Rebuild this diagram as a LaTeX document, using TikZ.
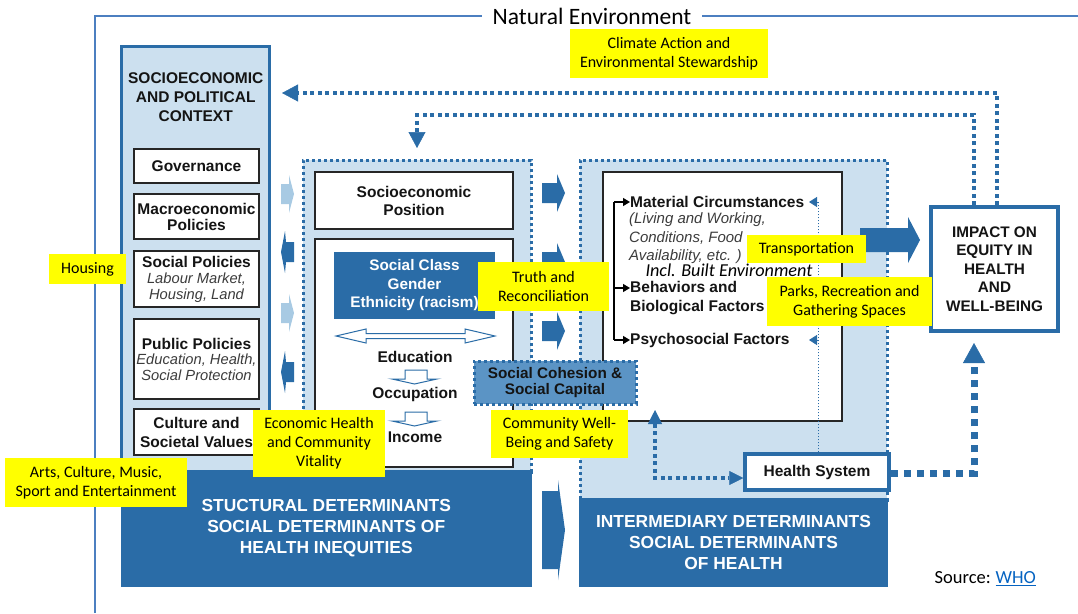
\documentclass[tikz,border=0pt]{standalone}
\usepackage{fontspec}
\setmainfont{Carlito}
\newfontfamily\hv{Liberation Sans}
\newfontfamily\calib{Carlito}
\usetikzlibrary{arrows.meta}
\definecolor{dblue}{HTML}{2A6CA7}
\definecolor{lblue}{HTML}{CCE0EF}
\definecolor{ablue}{HTML}{A8CAE3}
\definecolor{mblue}{HTML}{5B94C5}
\definecolor{yel}{HTML}{FFFF00}
\definecolor{frm}{HTML}{4C7FC0}
\definecolor{txt}{HTML}{141414}
\definecolor{itx}{HTML}{3C3C3C}
\definecolor{lnk}{HTML}{0563C1}
\begin{document}
\begin{tikzpicture}[x=1pt,y=-1pt,
  hvb/.style={font=\hv\bfseries\fontsize{15.5}{18}\selectfont, text=txt},
  wbox/.style={draw=black!85, line width=2pt, fill=white, inner sep=0pt, align=center, hvb},
  ybox/.style={fill=yel, inner sep=0pt, align=center, font=\calib\fontsize{16}{19}\selectfont, text=black},
  dbox/.style={fill=dblue, inner sep=0pt, align=center, text=white, font=\hv\bfseries\fontsize{17.4}{21}\selectfont},
  region/.style={fill=lblue, draw=dblue, line width=3pt, dash pattern=on 3pt off 3pt, inner sep=0pt},
  fb/.style={draw=dblue, line width=3.5pt, dash pattern=on 4pt off 3.5pt},
  fbtip/.style={-{Triangle[width=17pt,length=16pt,line width=0.5pt]}},
  thickdot/.style={draw=dblue, line width=7pt, dash pattern=on 7pt off 6pt},
  thindot/.style={draw=dblue, line width=1pt, dash pattern=on 1.5pt off 1.5pt},
  btxt/.style={hvb, inner sep=0pt, align=left},
  itxt/.style={font=\hv\itshape\fontsize{15}{18.5}\selectfont, text=itx, inner sep=0pt, align=left}
]
\useasboundingbox (0,0) rectangle (1078,613);

% ---- frame: natural environment
\node[font=\calib\fontsize{23.5}{26}\selectfont, inner sep=0pt] (natenv) at (592,16) {Natural Environment};
\draw[frm, line width=1.3pt] (95,613) |- ([xshift=-11pt]natenv.west);
\draw[frm, line width=1.3pt] ([xshift=11pt]natenv.east) -- (1078,16);

% ---- left column
\node[draw=dblue, line width=3pt, fill=lblue, minimum width=148pt, minimum height=440pt, inner sep=0pt] (ctx) at (195.75,266) {};
\node[hvb, align=center, inner sep=0pt, font=\hv\bfseries\fontsize{15.5}{19}\selectfont] (ctxt) at (195.75,97) {SOCIOECONOMIC\\AND POLITICAL\\CONTEXT};
\node[wbox, minimum width=125pt, minimum height=34pt] (gov) at (196.5,166) {Governance};
\node[wbox, minimum width=125pt, minimum height=45pt, font=\hv\bfseries\fontsize{15.5}{16}\selectfont] (macro) at (196.5,216.5) {Macroeconomic\\Policies};
\node[wbox, minimum width=125pt, minimum height=56pt, font=\hv\bfseries\fontsize{15.5}{16}\selectfont] (socpol) at (196.5,279) {Social Policies\\{\mdseries\itshape\color{itx}\fontsize{14.7}{16}\selectfont Labour Market,}\\{\mdseries\itshape\color{itx}\fontsize{14.7}{16}\selectfont Housing, Land}};
\node[wbox, minimum width=125pt, minimum height=80pt, font=\hv\bfseries\fontsize{15.5}{15.5}\selectfont] (pubpol) at (196.5,359) {Public Policies\\{\mdseries\itshape\color{itx}\fontsize{14.7}{15.5}\selectfont Education, Health,}\\{\mdseries\itshape\color{itx}\fontsize{14.7}{15.5}\selectfont Social Protection}};
\node[wbox, minimum width=125pt, minimum height=46pt, font=\hv\bfseries\fontsize{15.5}{19}\selectfont] (cult) at (196.5,432) {Culture and\\Societal Values};

% arrows between left column and middle region
\foreach \c in {194,313}
  \fill[ablue] (281,\c-10) -- (289,\c-10) -- (289,\c-19) -- (294,\c) -- (289,\c+19) -- (289,\c+10) -- (281,\c+10) -- cycle;
\foreach \c in {252,372}
  \fill[dblue] (294,\c-10) -- (286,\c-10) -- (285,\c-21) -- (281,\c) -- (285,\c+21) -- (286,\c+10) -- (294,\c+10) -- cycle;

% ---- middle region
\node[region, minimum width=228pt, minimum height=312pt] (midreg) at (417,316) {};
\node[wbox, minimum width=198pt, minimum height=57pt] (sep) at (414,200.5) {Socioeconomic\\Position};
\node[wbox, minimum width=198pt, minimum height=228pt] (strat) at (414,353) {};
\node[dbox, minimum width=161pt, minimum height=67pt, font=\hv\bfseries\fontsize{15.3}{18.5}\selectfont] (scg) at (414.5,285.5) {Social Class\\Gender\\Ethnicity (racism)};
\draw[dblue, line width=1pt, fill=white] (336,336) -- (366,329) -- (366,333.5) -- (465,333.5) -- (465,329) -- (495,336) -- (465,343) -- (465,338.5) -- (366,338.5) -- (366,343) -- cycle;
\node[hvb, inner sep=0pt] (edu) at (415,357) {Education};
\node[hvb, inner sep=0pt] (occ) at (415,394) {Occupation};
\node[hvb, inner sep=0pt] (inc) at (415,437) {Income};
\foreach \t in {370,412}
  \draw[dblue, line width=1pt, fill=white] (405,\t) -- (427,\t) -- (427,\t+9) -- (437,\t+9) -- (414.5,\t+14) -- (392,\t+9) -- (405,\t+9) -- cycle;

% arrows between middle and right regions
\foreach \c in {193,262,331}
  \fill[dblue] (542,\c-10) -- (557,\c-10) -- (557,\c-19) -- (565,\c) -- (557,\c+19) -- (557,\c+10) -- (542,\c+10) -- cycle;
\fill[dblue] (542,491) -- (558,491) -- (558,480) -- (565,530) -- (558,580) -- (558,569) -- (542,569) -- cycle;

% ---- right region
\node[region, minimum width=307pt, minimum height=340pt] (rreg) at (733.5,330) {};
\node[wbox, minimum width=239pt, minimum height=249pt] (inter) at (722.5,296.5) {};
\node[btxt, anchor=west] (mc) at (630,202) {Material Circumstances};
\node[itxt, anchor=west] (mcdet) at (629,238.5) {(Living and Working,\\Conditions, Food\\Availability, etc. )};
\node[btxt, anchor=west, font=\hv\bfseries\fontsize{15.5}{19}\selectfont] (beh) at (630,298) {Behaviors and\\Biological Factors};
\node[btxt, anchor=west] (psy) at (630,340) {Psychosocial Factors};
\coordinate (brt) at (614,202);
\coordinate (brm) at (614,288);
\coordinate (brb) at (614,340);
\draw[black, line width=1.3pt] (brt) -- (brb);
\draw[black, line width=1.3pt, -{Triangle[width=8pt,length=7pt]}] (brt) -- (mc.west);
\draw[black, line width=1.3pt, -{Triangle[width=8pt,length=7pt]}] (brm) -- (beh.west |- brm);
\draw[black, line width=1.3pt, -{Triangle[width=8pt,length=7pt]}] (brb) -- (psy.west);
\node[font=\calib\itshape\fontsize{18.2}{20}\selectfont, inner sep=0pt] (built) at (729,270) {Incl. Built Environment};

\node[draw=dblue, line width=3.5pt, fill=white, minimum width=144pt, minimum height=36pt, inner sep=0pt, hvb] (hs) at (817,472) {Health System};
% thin dotted feedback from health system
\coordinate (hmc) at (818,202);
\coordinate (hps) at (818,340);
\draw[thindot] ([xshift=1pt]hs.north) -- (hmc);
\draw[dblue, line width=0.8pt, -{Triangle[width=10pt,length=8pt]}] (hmc) -- ++(-9,0);
\draw[dblue, line width=0.8pt, -{Triangle[width=10pt,length=8pt]}] (hps) -- ++(-9,0);

% dark determinant boxes
\node[dbox, minimum width=411.5pt, minimum height=117pt] (struct) at (326.25,528.5) {STUCTURAL DETERMINANTS\\SOCIAL DETERMINANTS OF\\HEALTH INEQUITIES};
\node[dbox, minimum width=309pt, minimum height=89pt] (interm) at (733.5,542.5) {\raisebox{-2.5pt}{INTERMEDIARY DETERMINANTS}\\\raisebox{-2.5pt}{SOCIAL DETERMINANTS}\\\raisebox{-2.5pt}{OF HEALTH}};

% impact box and big arrow
\node[draw=dblue, line width=4pt, fill=white, minimum width=127pt, minimum height=124pt, inner sep=0pt, align=center, hvb, font=\hv\bfseries\fontsize{15.3}{18.5}\selectfont] (impact) at (994.5,269) {IMPACT ON\\EQUITY IN\\HEALTH\\AND\\WELL-BEING};
\fill[dblue] (860,228) -- (908,228) -- (908,217) -- (920,240) -- (908,263) -- (908,252) -- (860,252) -- cycle;

% health system connectors
\coordinate (upt) at (655,410);
\draw[fb, {Triangle[width=14pt,length=14pt,line width=0.5pt]}-{Triangle[width=14pt,length=14pt,line width=0.5pt]}] (upt) |- ([yshift=-6pt]hs.west);
\coordinate (impin) at (974,343);
\draw[thickdot, -{Triangle[width=22pt,length=20pt,line width=0.5pt]}] ([yshift=-1pt]hs.east) -| (impin);

% feedback lines from impact
\coordinate (fbA) at (282,93);
\coordinate (fbB) at (417,148);
\draw[fb, fbtip] ([xshift=2.5pt]impact.north) |- (fbA);
\draw[fb, fbtip] ([xshift=-20.5pt]impact.north) |- (fbB |- 0,115) -- (fbB);

% social cohesion
\node[fill=mblue, draw=dblue, line width=3pt, dash pattern=on 3pt off 3pt, minimum width=162pt, minimum height=43pt, inner sep=0pt, align=center, hvb, font=\hv\bfseries\fontsize{15.3}{15.5}\selectfont] (cohes) at (555,382.5) {Social Cohesion \&\\Social Capital};

% ---- yellow labels
\node[ybox, minimum width=198pt, minimum height=49pt] (climate) at (669,53.5) {Climate Action and\\Environmental Stewardship};
\node[ybox, minimum width=77pt, minimum height=30pt] (housing) at (87.5,269) {Housing};
\node[ybox, minimum width=131pt, minimum height=49pt] (truth) at (543.5,286.5) {Truth and\\Reconciliation};
\node[ybox, minimum width=119pt, minimum height=28pt] (transp) at (806.5,249) {Transportation};
\node[ybox, minimum width=165pt, minimum height=49pt] (parks) at (849.5,301.5) {Parks, Recreation and\\Gathering Spaces};
\node[ybox, minimum width=132pt, minimum height=67pt] (econ) at (319,443.5) {Economic Health\\and Community\\Vitality};
\node[ybox, minimum width=137pt, minimum height=48pt] (commun) at (559.5,434) {Community Well-\\Being and Safety};
\node[ybox, minimum width=182pt, minimum height=49pt] (arts) at (96,482.5) {Arts, Culture, Music,\\Sport and Entertainment};

% source
\node[font=\calib\fontsize{18.5}{20}\selectfont, inner sep=0pt, anchor=base east] (src) at (991,583) {Source:};
\node[font=\calib\fontsize{18.5}{20}\selectfont, inner sep=0pt, anchor=base west, text=lnk] (who) at ([xshift=4.5pt]src.base east) {WHO};
\draw[lnk, line width=1pt] ([yshift=-2pt]who.base west) -- ([yshift=-2pt]who.base east);
\end{tikzpicture}
\end{document}
